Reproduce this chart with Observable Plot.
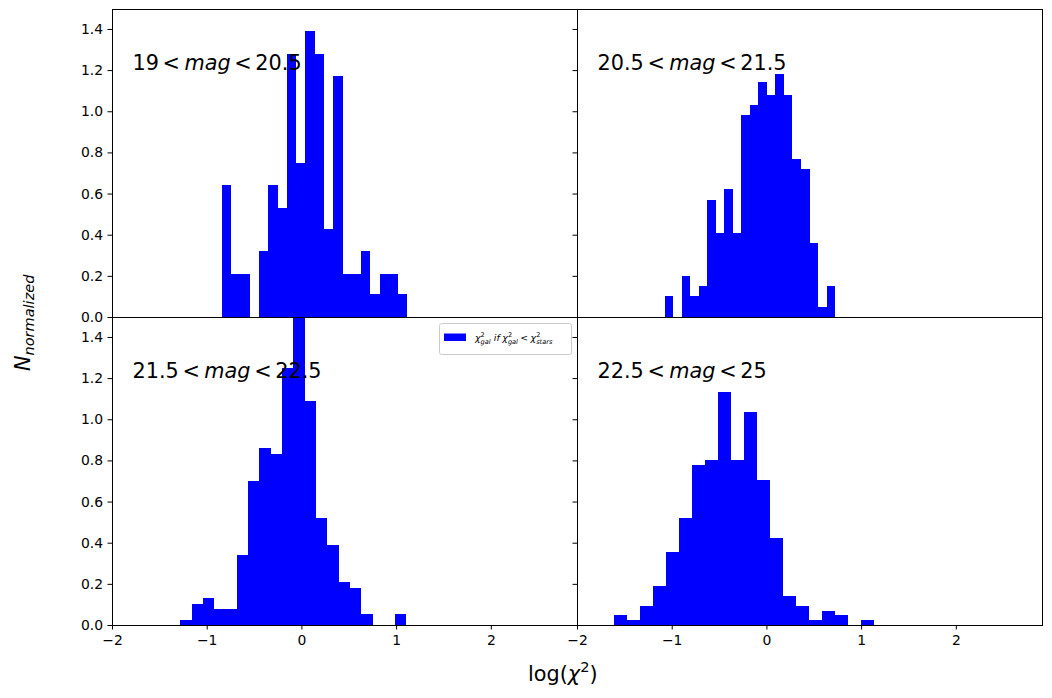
<!DOCTYPE html>
<html><head><meta charset="utf-8">
<script src="https://cdn.jsdelivr.net/npm/d3@7"></script>
<script src="https://cdn.jsdelivr.net/npm/@observablehq/plot@0.6"></script>
<style>
body{margin:0;background:#fff;}
#fig{position:relative;width:1052px;height:698px;overflow:hidden;font-family:"DejaVu Sans";background:#fff;}
#fig > svg{position:absolute;}
</style></head><body><div id="fig"></div>
<script>
// ---- axis settings ----
const xDomain = [-2, 2.91];
const yDomain = [0, 1.497];
const xTicks = [-2, -1, 0, 1, 2];
const yTicks = [0, 0.2, 0.4, 0.6, 0.8, 1.0, 1.2, 1.4];

// ---- magnitude ranges (panel labels) ----
const magLow = ["19", "20.5", "21.5", "22.5"];
const magHigh = ["20.5", "21.5", "22.5", "25"];

// ---- histogram bin ranges [first edge, last edge], 20 bins each ----
const binRange1 = [-0.838, 1.119];
const binRange2 = [-1.074, 0.725];
const binRange3 = [-1.278, 1.109];
const binRange4 = [-1.605, 1.140];

// ---- normalized histogram heights ----
const heights1 = [0.64, 0.21, 0.21, 0, 0.32, 0.64, 0.53, 1.28, 0.75, 1.39, 1.28, 0.43, 1.17, 0.21, 0.21, 0.32, 0.11, 0.21, 0.21, 0.11];
const heights2 = [0.10, 0, 0.20, 0.10, 0.15, 0.57, 0.41, 0.62, 0.41, 0.98, 1.03, 1.14, 1.08, 1.18, 1.08, 0.77, 0.72, 0.36, 0.05, 0.15];
const heights3 = [0.024, 0.10, 0.13, 0.078, 0.078, 0.34, 0.70, 0.86, 0.83, 1.25, 1.60, 1.09, 0.52, 0.39, 0.21, 0.18, 0.053, 0, 0, 0.053];
const heights4 = [0.049, 0.024, 0.092, 0.19, 0.355, 0.52, 0.778, 0.802, 1.133, 0.802, 1.036, 0.705, 0.423, 0.141, 0.092, 0.024, 0.068, 0.049, 0, 0.024];

const panels = [
  {range: binRange1, heights: heights1, col: 0, row: 0},
  {range: binRange2, heights: heights2, col: 1, row: 0},
  {range: binRange3, heights: heights3, col: 0, row: 1},
  {range: binRange4, heights: heights4, col: 1, row: 1}
];

const fig = document.getElementById("fig");
const M = {l: 45, r: 10, t: 10, b: 35};
const frameW = 465, frameH = 308;
const frameLeft = [112, 577], frameTop = [9, 317];
const fmtX = d => (d < 0 ? "\u2212" + Math.abs(d) : String(d));

panels.forEach(p => {
  const [lo, hi] = p.range;
  const n = p.heights.length;
  const w = (hi - lo) / n;
  const rows = p.heights.map((h, i) => ({x1: lo + i * w, x2: lo + (i + 1) * w, h})).filter(d => d.h > 0);
  const chart = Plot.plot({
    width: frameW + M.l + M.r,
    height: frameH + M.t + M.b,
    marginLeft: M.l, marginRight: M.r, marginTop: M.t, marginBottom: M.b,
    style: {background: "transparent", overflow: "visible", fontFamily: "DejaVu Sans", fontSize: "13.9px", color: "black"},
    x: {domain: xDomain, ticks: xTicks, tickFormat: fmtX, axis: p.row === 1 ? "bottom" : null, label: null, tickSize: 4.5, tickPadding: 5},
    y: {domain: yDomain, ticks: yTicks, tickFormat: p.col === 0 ? (d => d.toFixed(1)) : (() => ""), label: null, tickSize: 4.5, tickPadding: 5},
    marks: [
      Plot.rectY(rows, {x1: "x1", x2: "x2", y: "h", fill: "#0000ff", inset: 0, clip: true, shapeRendering: "crispEdges"}),
      Plot.frame({stroke: "black", strokeWidth: 1})
    ]
  });
  chart.style.left = (frameLeft[p.col] - M.l) + "px";
  chart.style.top = (frameTop[p.row] - M.t) + "px";
  chart.style.maxWidth = "none";
  fig.appendChild(chart);
});

// ---- overlay text: titles, labels, legend ----
const svg = d3.select(fig).append("svg")
  .attr("width", 1052).attr("height", 698)
  .style("left", "0px").style("top", "0px")
  .attr("font-family", "DejaVu Sans").attr("fill", "black");

panels.forEach((p, i) => {
  const t = svg.append("text")
    .attr("x", frameLeft[p.col] + 20.5)
    .attr("y", frameTop[p.row] + 61)
    .attr("font-size", 20.8);
  t.append("tspan").text(magLow[i]);
  t.append("tspan").attr("dx", 3.6).text("<");
  t.append("tspan").attr("dx", 4.5).attr("font-style", "italic").text("mag");
  t.append("tspan").attr("dx", 3.6).text("<");
  t.append("tspan").attr("dx", 3.6).text(magHigh[i]);
});

// chi-squared with stacked super/subscript
function chi(t, sub, fs, dx) {
  const s = fs * 0.7;
  t.append("tspan").attr("font-style", "italic").attr("dx", dx || 0).text("\u03C7");
  t.append("tspan").attr("font-size", s).attr("dy", -fs * 0.42).text("2");
  if (sub) {
    t.append("tspan").attr("font-size", s).attr("font-style", "italic")
      .attr("dx", -0.636 * s).attr("dy", fs * 0.42 + fs * 0.28).text(sub);
    return fs * 0.28;
  }
  return -fs * 0.42;
}

// x label
{
  const t = svg.append("text").attr("x", 528).attr("y", 681).attr("font-size", 20.8);
  t.append("tspan").text("log(");
  const off = chi(t, null, 20.8);
  t.append("tspan").attr("dy", -off).text(")");
}

// y label
{
  const t = svg.append("text").attr("transform", "translate(29.5,371) rotate(-90)").attr("font-size", 20.8);
  t.append("tspan").attr("font-style", "italic").text("N");
  t.append("tspan").attr("font-style", "italic").attr("font-size", 14.5).attr("dy", 4).text("normalized");
}

// legend
{
  const g = svg.append("g");
  g.append("rect").attr("x", 439.5).attr("y", 323.5).attr("width", 132).attr("height", 31).attr("rx", 2)
    .attr("fill", "white").attr("fill-opacity", 0.8).attr("stroke", "#cccccc").attr("stroke-width", 1);
  g.append("rect").attr("x", 444).attr("y", 333.5).attr("width", 22).attr("height", 7.5).attr("fill", "#0000ff");
  const fs = 9.4;
  const t = g.append("text").attr("x", 475).attr("y", 341).attr("font-size", fs);
  let off = chi(t, "gal", fs, 0);
  t.append("tspan").attr("dy", -off).attr("dx", 3.2).attr("font-style", "italic").text("if");
  off = chi(t, "gal", fs, 2.6);
  t.append("tspan").attr("dy", -off).attr("dx", 2.4).text("<");
  chi(t, "stars", fs, 2.4);
}
</script>
</body></html>
